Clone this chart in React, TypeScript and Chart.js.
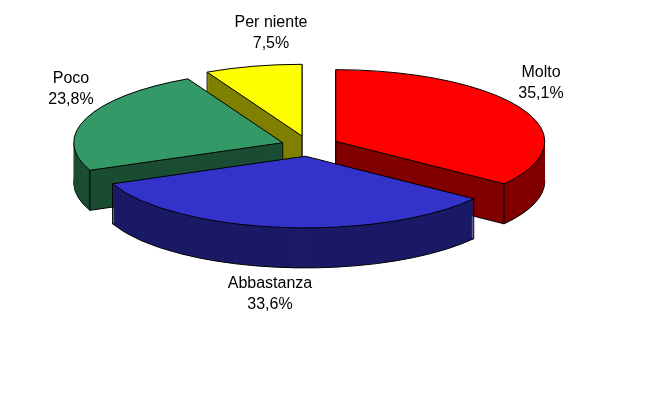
import React, { useEffect, useRef } from "react";
import { Chart, registerables } from "chart.js";

Chart.register(...registerables);

const categories = ["Molto", "Abbastanza", "Poco", "Per niente"];
const shares = [35.1, 33.6, 23.8, 7.5];
const topColors = ["#FF0000", "#3333CC", "#339966", "#FFFF00"];
const sideColors = ["#800000", "#1A1A66", "#1A4D33", "#808000"];
const explodeBySlice = [30, 30, 28, 30];
const drawOrder = [3, 2, 0, 1];
const labelAnchors = [
  [541, 77],
  [270, 288],
  [71, 83],
  [271, 27],
];

const CX = 309;
const CY = 146;
const SQUASH = 0.343;
const DEPTH = 40;
const RADIUS = 209;

const pie3d = {
  id: "pie3d",
  beforeDatasetDraw(chart: any) {
    const ctx: CanvasRenderingContext2D = chart.ctx;
    const arcs = chart.getDatasetMeta(0).data;

    const place = (arc: any, dy: number) => {
      const mid = (arc.startAngle + arc.endAngle) / 2;
      const ex = explodeBySlice[arc.$context.dataIndex];
      ctx.translate(CX, CY + dy);
      ctx.scale(1, SQUASH);
      ctx.translate(Math.cos(mid) * ex - arc.x, Math.sin(mid) * ex - arc.y);
    };
    const strokeOutline = (arc: any, dy: number) => {
      ctx.save();
      place(arc, dy);
      ctx.beginPath();
      ctx.moveTo(arc.x, arc.y);
      ctx.arc(arc.x, arc.y, arc.outerRadius, arc.startAngle, arc.endAngle);
      ctx.closePath();
      ctx.restore();
      ctx.strokeStyle = "#000";
      ctx.lineWidth = 1;
      ctx.stroke();
    };
    const corners = (arc: any) => {
      const mid = (arc.startAngle + arc.endAngle) / 2;
      const ex = explodeBySlice[arc.$context.dataIndex];
      const ax = CX + Math.cos(mid) * ex;
      const ay = CY + Math.sin(mid) * ex * SQUASH;
      const pts = [
        [ax, ay],
        [ax + Math.cos(arc.startAngle) * arc.outerRadius, ay + Math.sin(arc.startAngle) * arc.outerRadius * SQUASH],
        [ax + Math.cos(arc.endAngle) * arc.outerRadius, ay + Math.sin(arc.endAngle) * arc.outerRadius * SQUASH],
      ];
      ctx.strokeStyle = "#000";
      ctx.lineWidth = 1;
      for (const [sx, sy] of pts) {
        ctx.beginPath();
        ctx.moveTo(sx, sy);
        ctx.lineTo(sx, sy + DEPTH);
        ctx.stroke();
      }
    };
    const fill = (arc: any, dy: number, color: string) => {
      const orig = arc.options;
      arc.options = Object.create(orig, { backgroundColor: { value: color } });
      ctx.save();
      place(arc, dy);
      arc.draw(ctx);
      ctx.restore();
      arc.options = orig;
    };

    for (const i of drawOrder) {
      const arc = arcs[i];
      fill(arc, DEPTH, sideColors[i]);
      strokeOutline(arc, DEPTH);
      for (let dy = DEPTH - 1; dy >= 1; dy--) fill(arc, dy, sideColors[i]);
      corners(arc);
      fill(arc, 0, topColors[i]);
      strokeOutline(arc, 0);
    }

    ctx.save();
    ctx.fillStyle = "#000";
    ctx.font = '16px "Liberation Sans", Arial, sans-serif';
    ctx.textAlign = "center";
    categories.forEach((name, i) => {
      const [x, y] = labelAnchors[i];
      ctx.fillText(name, x, y);
      ctx.fillText(shares[i].toFixed(1).replace(".", ",") + "%", x, y + 21);
    });
    ctx.restore();
    return false;
  },
};

export default function App() {
  const ref = useRef<HTMLCanvasElement>(null);
  useEffect(() => {
    document.body.style.margin = "0";
    const chart = new Chart(ref.current!, {
      type: "pie",
      data: {
        labels: categories,
        datasets: [
          {
            data: shares,
            backgroundColor: topColors,
            borderWidth: 0,
          },
        ],
      },
      options: {
        animation: false,
        responsive: false,
        radius: RADIUS,
        layout: { padding: 0 },
        plugins: { legend: { display: false }, tooltip: { enabled: false } },
      },
      plugins: [pie3d],
    } as any);
    return () => chart.destroy();
  }, []);
  return <canvas ref={ref} width={649} height={407} style={{ display: "block" }} />;
}
